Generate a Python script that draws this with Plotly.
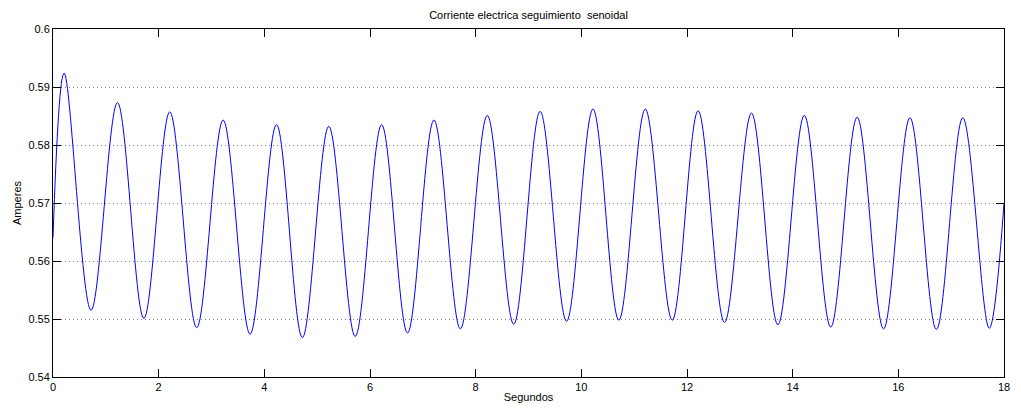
import plotly.graph_objects as go

# Extrema (and endpoints): time [s], current [A]
t_s = [0.0, 0.21, 0.72, 1.22, 1.72, 2.21, 2.72, 3.22, 3.73, 4.23, 4.72, 5.22,
       5.72, 6.22, 6.71, 7.21, 7.71, 8.22, 8.72, 9.22, 9.72, 10.22, 10.71,
       11.21, 11.72, 12.21, 12.71, 13.22, 13.72, 14.22, 14.72, 15.22, 15.72,
       16.22, 16.72, 17.22, 17.72, 18.0]
i_a = [0.5640, 0.5924, 0.5515, 0.5873, 0.5501, 0.5857, 0.5485, 0.5843, 0.5474,
       0.5835, 0.5468, 0.5832, 0.5470, 0.5835, 0.5476, 0.5843, 0.5483, 0.5851,
       0.5491, 0.5858, 0.5496, 0.5862, 0.5498, 0.5862, 0.5498, 0.5859, 0.5494,
       0.5855, 0.5490, 0.5851, 0.5486, 0.5848, 0.5483, 0.5847, 0.5482, 0.5847,
       0.5484, 0.5700]

x_ticks = [0, 2, 4, 6, 8, 10, 12, 14, 16, 18]
x_tick_labels = ["0", "2", "4", "6", "8", "10", "12", "14", "16", "18"]
y_ticks = [0.54, 0.55, 0.56, 0.57, 0.58, 0.59, 0.60]
y_tick_labels = ["0.54", "0.55", "0.56", "0.57", "0.58", "0.59", "0.6"]

FONT = "Liberation Sans, Arial, Helvetica, sans-serif"
FS = 11

fig = go.Figure()
fig.add_trace(go.Scatter(
    x=t_s, y=i_a, mode="lines",
    line=dict(color="#0000ff", width=1.0, shape="spline", smoothing=1.0),
    showlegend=False, hoverinfo="x+y",
))

fig.update_layout(
    width=1021, height=413,
    margin=dict(l=53, r=11, t=29, b=35),
    paper_bgcolor="white", plot_bgcolor="white",
    font=dict(family=FONT, size=FS, color="black"),
    title=dict(text="Corriente electrica seguimiento  senoidal",
               x=0.5, xanchor="center", xref="paper",
               y=1 - 15 / 413, yanchor="middle",
               font=dict(family=FONT, size=FS, color="black")),
)

fig.update_xaxes(
    range=[0, 18], tickvals=x_ticks, ticktext=x_tick_labels,
    showgrid=False, zeroline=False,
    showline=True, linecolor="black", linewidth=1, mirror="allticks",
    ticks="inside", ticklen=8, tickcolor="black", tickwidth=1,
    tickfont=dict(family=FONT, size=FS, color="black"),
    title=dict(text="Segundos", standoff=1,
               font=dict(family=FONT, size=FS, color="black")),
)
fig.update_yaxes(
    range=[0.54, 0.60], tickvals=y_ticks, ticktext=y_tick_labels,
    showgrid=True, gridcolor="#808080", gridwidth=1, griddash="1px,3px",
    zeroline=False,
    showline=True, linecolor="black", linewidth=1, mirror="allticks",
    ticks="inside", ticklen=8, tickcolor="black", tickwidth=1,
    tickfont=dict(family=FONT, size=FS, color="black"),
    title=dict(text="Amperes", standoff=4,
               font=dict(family=FONT, size=FS, color="black")),
)

fig.write_html("out.html")
